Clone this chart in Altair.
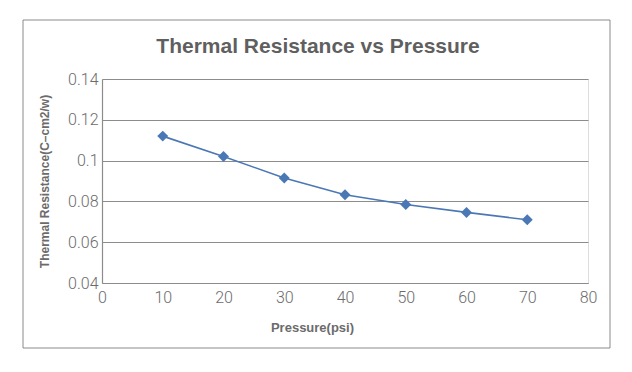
import altair as alt
import pandas as pd

pressure = [10, 20, 30, 40, 50, 60, 70]
resistance = [0.112, 0.102, 0.0915, 0.0833, 0.0785, 0.0746, 0.071]
title_text = "Thermal Resistance vs Pressure"

df = pd.DataFrame({"Pressure": pressure, "Resistance": resistance})

W, H = 486, 204
GRID = "#8c8c8c"
TXT = "#6b6b6b"
BLUE = "#4a78b4"

base = alt.Chart(df)

frame = base.mark_rect(fillOpacity=0, stroke="#8a8a8a", strokeWidth=1, clip=False).encode(
    x=alt.value(-79), x2=alt.value(508), y=alt.value(-59), y2=alt.value(269)
).transform_filter("datum.Pressure == 10")

title = base.mark_text(font="Liberation Sans", fontSize=21,
                       fontWeight="bold", color="#5f5f5f", align="center",
                       baseline="middle", text=title_text).encode(
    x=alt.value(216), y=alt.value(-32)
).transform_filter("datum.Pressure == 10")

line = base.mark_line(color=BLUE, strokeWidth=1.6).encode(
    x=alt.X("Pressure:Q",
            scale=alt.Scale(domain=[0, 80], nice=False, zero=False),
            axis=alt.Axis(values=list(range(0, 90, 10)), title="Pressure(psi)",
                          grid=False, ticks=False, domainColor=GRID, domainWidth=1.2,
                          labelFont="Roboto", labelFontWeight=300, labelFontSize=16,
                          labelColor=TXT, labelPadding=6, labelFlush=False,
                          titleFont="Liberation Sans", titleFontWeight="bold",
                          titleFontSize=13, titleColor=TXT,
                          titleX=210, titleY=44, titleAnchor="middle", titleAlign="center",
                          titleBaseline="middle")),
    y=alt.Y("Resistance:Q",
            scale=alt.Scale(domain=[0.04, 0.14], nice=False, zero=False),
            axis=alt.Axis(values=[0.04, 0.06, 0.08, 0.10, 0.12, 0.14],
                          labelExpr="format(datum.value, '~g')",
                          title="Thermal Resistance(C–cm2/w)",
                          grid=True, gridColor=GRID, gridWidth=1.2, ticks=False,
                          domainColor=GRID, domainWidth=1.2, labelFlush=False,
                          labelFont="Roboto", labelFontWeight=300, labelFontSize=16,
                          labelColor=TXT, labelPadding=4,
                          titleFont="Liberation Sans", titleFontWeight="bold",
                          titleFontSize=12, titleColor=TXT,
                          titleX=-58, titleY=102, titleAngle=270,
                          titleAlign="center", titleBaseline="middle")),
)

points = base.mark_point(shape="diamond", filled=True, size=120, color=BLUE, opacity=1).encode(
    x="Pressure:Q", y="Resistance:Q"
)

chart = alt.layer(frame, title, line, points).properties(
    width=W, height=H,
    padding={"left": 94, "top": 71, "right": 36, "bottom": 81},
    autosize=alt.AutoSizeParams(type="none"),
).configure_view(stroke=None).configure(background="white")

chart.save("out.html", embed_options={"renderer": "svg", "actions": False})
